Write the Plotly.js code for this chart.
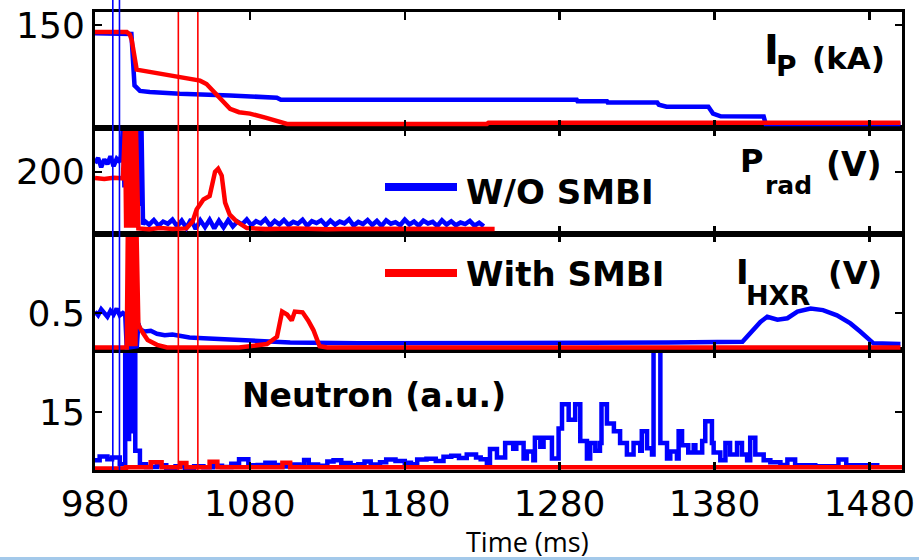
<!DOCTYPE html>
<html>
<head>
<meta charset="utf-8">
<script src="https://cdn.plot.ly/plotly-3.0.1.min.js"></script>
<style>
  html, body { margin: 0; padding: 0; background: #ffffff; }
  #chart { width: 919px; height: 560px; }
</style>
</head>
<body>
<div id="chart"></div>
<script>
// ---------------- data ----------------
const timeTicks = [980, 1080, 1180, 1280, 1380, 1480];
const timeTickLabels = ['980', '1080', '1180', '1280', '1380', '1480'];

const ipTicks = [150];         const ipTickLabels = ['150'];
const pradTicks = [200];       const pradTickLabels = ['200'];
const hxrTicks = [0.5];        const hxrTickLabels = ['0.5'];
const neutronTicks = [15];     const neutronTickLabels = ['15'];

const seriesNames = ['W/O SMBI', 'With SMBI'];
const markTimesBlue = [991.5, 995.8];
const markTimesRed = [1033.8, 1046.4];

// Plasma current Ip (kA)
const ipBlueT = [980, 1003.5, 1005.5, 1007, 1009, 1015.4, 1034.8, 1067.2, 1097.4, 1100, 1291, 1291.5, 1310.5, 1311, 1343, 1344, 1349, 1376, 1379, 1384, 1411.7, 1413, 1500];
const ipBlue  = [138, 137, 62, 58, 54, 52.6, 50, 47.5, 44, 41, 41, 39, 39, 37, 37, 34, 31, 31, 21, 17, 16.6, 6, 6];
const ipRedT  = [980, 1000.5, 1002.5, 1003.7, 1006.9, 1020, 1032.8, 1040, 1047.8, 1052, 1056.4, 1061, 1067.2, 1073, 1080, 1090, 1101.6, 1104, 1233, 1234, 1500];
const ipRed   = [140, 140, 136, 128, 85, 80, 75, 73, 69, 64, 54, 44, 28, 23, 21, 15, 8, 6, 6, 7.5, 7.5];

// Radiated power Prad (V)
const pradBlueT = [980, 982, 984, 986, 988, 990, 992, 994, 996, 997,
                   998, 999, 1000, 1001, 1002, 1003, 1004, 1005, 1006, 1007,
                   1008, 1009, 1010, 1011,
                   1012, 1015, 1018, 1021, 1024, 1027, 1030, 1033, 1036, 1039,
                   1042, 1045, 1048, 1051, 1054, 1057, 1060, 1063, 1066, 1069,
                   1072, 1075, 1078, 1081, 1084, 1087, 1090, 1093, 1096, 1099,
                   1102, 1105, 1108, 1111, 1114, 1117, 1120, 1123, 1126, 1129,
                   1132, 1135, 1138, 1141, 1144, 1147, 1150, 1153, 1156, 1159,
                   1162, 1165, 1168, 1171, 1174, 1177, 1180, 1183, 1186, 1189,
                   1192, 1195, 1198, 1201, 1204, 1207, 1210, 1213, 1216, 1219,
                   1222, 1225, 1228, 1231];
const pradBlue  = [228, 245, 215, 240, 225, 250, 218, 242, 232, 258,
                   345, 150, 345, 120, 345, 160, 345, 110, 345, 140,
                   345, 90, 345, 30,
                   42, 30, 45, 27, 40, 33, 46, 25, 43, 20,
                   47, 16, 44, 22, 46, 18, 43, 21, 45, 24,
                   40, 31, 47, 28, 41, 34, 48, 27, 42, 31,
                   45, 29, 39, 33, 46, 26, 41, 35, 44, 28,
                   43, 30, 40, 34, 47, 27, 39, 32, 45, 29,
                   42, 26, 44, 33, 38, 28, 46, 31, 40, 27,
                   43, 34, 39, 26, 44, 30, 41, 28, 37, 32,
                   42, 27, 36, 25];
const pradRedT = [980, 986, 992, 998, 999.4, 1000.1, 1000.8, 1001.5, 1002.2, 1002.9,
                  1003.6, 1004.3, 1005, 1005.7, 1006.4, 1008, 1015, 1022, 1030, 1039,
                  1043, 1045.6, 1050, 1054, 1057.5, 1059.5, 1061.8, 1064, 1067, 1071.5,
                  1078, 1090, 1110, 1130, 1150, 1170, 1190, 1210, 1238];
const pradRed  = [180, 177, 181, 179, 345, 20, 345, 20, 345, 20,
                  345, 20, 345, 20, 345, 18, 15, 19, 16, 18,
                  40, 79, 111, 122, 200, 210, 188, 101, 62, 40,
                  19, 16, 18, 15, 17, 16, 18, 15, 16];

// Hard X-ray IHXR (V)
const hxrBlueT = [980, 982, 984, 986, 988, 990, 992, 994, 996, 998,
                  999.5, 1000.5, 1007, 1008, 1009, 1012, 1016, 1020, 1025, 1030,
                  1035, 1041, 1050, 1060, 1074, 1090, 1106, 1150, 1216, 1345,
                  1350, 1398, 1400, 1405, 1409.6, 1414, 1420.6, 1427, 1433.5, 1442,
                  1450, 1459, 1467.7, 1474, 1482.6, 1500];
const hxrBlue  = [0.52, 0.47, 0.55, 0.5, 0.45, 0.53, 0.48, 0.56, 0.47, 0.5,
                  0.48, 0.03, 0.05, 0.36, 0.28, 0.25, 0.26, 0.22, 0.2, 0.21,
                  0.19, 0.17, 0.16, 0.15, 0.13, 0.11, 0.1, 0.09, 0.09, 0.09,
                  0.1, 0.11, 0.16, 0.27, 0.38, 0.45, 0.41, 0.43, 0.52, 0.56,
                  0.54, 0.47, 0.36, 0.25, 0.09, 0.08];
const hxrRedT = [980, 1000.5, 1001.2, 1001.9, 1002.6, 1003.3, 1004, 1004.7, 1005.4, 1006.1,
                 1006.8, 1007.5, 1008, 1011, 1014, 1020, 1026.5, 1073, 1080, 1091,
                 1097.5, 1100.8, 1104, 1107, 1109, 1114, 1117.6, 1121, 1125, 1130, 1500];
const hxrRed  = [0.035, 0.035, 1.6, 0.05, 1.6, 0.05, 1.6, 0.05, 1.6, 0.05,
                 1.6, 0.45, 0.34, 0.23, 0.135, 0.07, 0.035, 0.035, 0.05, 0.08,
                 0.18, 0.52, 0.48, 0.4, 0.52, 0.51, 0.4, 0.27, 0.05, 0.035, 0.035];

// Neutron (a.u.)
const neutronBlueT = [980, 983, 988, 991, 996, 999.5, 1001, 1002, 1003.5, 1004.5,
                      1006, 1009, 1013, 1020,
                      1026, 1032, 1038, 1044, 1050, 1056, 1062, 1068, 1073, 1079,
                      1085, 1090, 1096, 1101, 1106, 1112, 1115, 1118, 1124, 1130,
                      1134, 1139, 1145, 1150, 1154, 1158, 1164, 1168, 1174, 1180,
                      1184, 1188, 1194, 1200, 1205, 1210, 1215, 1220, 1226, 1229,
                      1233, 1235, 1239.5, 1244.8, 1250, 1252, 1256.7, 1258.8, 1263, 1264,
                      1267.5, 1269.6, 1275, 1279.3, 1281.5, 1285.8, 1290, 1293.3, 1297.6, 1299.7,
                      1303, 1306, 1307, 1310.5, 1315, 1319, 1323.4, 1327.7, 1332, 1333,
                      1336.4, 1339.6, 1340.6, 1345, 1349.3, 1351.4, 1355.7, 1356.8, 1359, 1363,
                      1366.5, 1367.6, 1372, 1374, 1378.3, 1379.4, 1383.7, 1387, 1390, 1394.5,
                      1397.7, 1401, 1403, 1406.3, 1411.7, 1416, 1422.5, 1427, 1432, 1445,
                      1460, 1465, 1485];
const neutronBlue  = [2.5, 3.5, 2.8, 3.2, 1.5, 33, 8, 33, 10, 33,
                      5, 1.5, 0.8, 1.2,
                      0.6, 1, 0.5, 1, 0.7, 1.1, 0.8, 1.6, 2.8, 1.2,
                      1.3, 1.9, 1.3, 0.9, 1.4, 1.1, 2.6, 1.4, 1.1, 2.2,
                      2.5, 1.8, 1.2, 1.5, 2.2, 1.4, 2, 2.7, 2.3, 1.9,
                      1.5, 2.7, 2.9, 2.3, 3.4, 3.7, 3.1, 4, 3.2, 2.8,
                      1.8, 5.4, 3.2, 7, 5.5, 7, 3, 4.8, 2.5, 8.3,
                      6, 8.3, 3, 10.7, 17, 13, 17, 7.5, 3, 7,
                      5, 7, 17, 12, 10, 7, 4, 7, 5, 10,
                      5.6, 4, 33, 7, 3, 4.8, 3, 10, 6.4, 4.5,
                      6.4, 4.5, 7.5, 12.6, 7, 4.5, 2.5, 7, 4, 7,
                      4, 2.5, 8.3, 4, 2.5, 2, 1.3, 2.7, 1.2, 1,
                      2.7, 1.2, 1];
const neutronRedT = [980, 1000, 1016, 1023, 1035, 1039, 1054, 1059, 1101, 1106, 1501];
const neutronRed  = [0.4, 0.7, 2, 0.7, 1.8, 0.7, 2.1, 0.7, 1.9, 0.7, 0.7];

// ---------------- layout helpers ----------------
const BLUE = '#0000ff', RED = '#ff0000';
const PL = 95, PR = 902, PT = 12, PB = 470;
const PW = PR - PL, PH = PB - PT;
const px = v => (v - PL) / PW;
const py = v => (PB - v) / PH;

const domains = {
  y4: [py(128), 1],       // Ip
  y3: [py(234), py(128)], // Prad
  y2: [py(350), py(234)], // IHXR
  y:  [0, py(350)]        // Neutron
};

const tickFont = {family: 'DejaVu Sans, Arial, sans-serif', size: 36, color: '#000'};

function xAxis(anchor, showLabels) {
  return {
    domain: [0, 1], range: [980, 1501], anchor: anchor,
    tickmode: 'array', tickvals: timeTicks, ticktext: timeTickLabels,
    showticklabels: showLabels, ticks: 'inside', ticklen: 8, tickwidth: 2.5, tickcolor: '#000',
    showline: true, linewidth: 3, linecolor: '#000', mirror: 'allticks',
    showgrid: false, zeroline: false, tickfont: tickFont, ticklabelstandoff: 0,
    fixedrange: true
  };
}
function yAxis(anchor, domain, range, vals, labels) {
  return {
    domain: domain, range: range, anchor: anchor,
    tickmode: 'array', tickvals: vals, ticktext: labels,
    ticks: 'inside', ticklen: 7, tickwidth: 2.5, tickcolor: '#000',
    showline: true, linewidth: 3, linecolor: '#000', mirror: 'allticks',
    showgrid: false, zeroline: false, tickfont: tickFont, ticklabelstandoff: 0,
    fixedrange: true
  };
}

function line(x, y, color, xa, ya, name, shape) {
  return {
    x: x, y: y, type: 'scatter', mode: 'lines', name: name,
    xaxis: xa, yaxis: ya, showlegend: false, hoverinfo: 'skip',
    line: {color: color, width: 4.5, shape: shape || 'linear'}
  };
}

const traces = [
  line(ipBlueT, ipBlue, BLUE, 'x4', 'y4', seriesNames[0]),
  line(ipRedT, ipRed, RED, 'x4', 'y4', seriesNames[1]),
  line(pradBlueT, pradBlue, BLUE, 'x3', 'y3', seriesNames[0]),
  line(pradRedT, pradRed, RED, 'x3', 'y3', seriesNames[1]),
  line(hxrBlueT, hxrBlue, BLUE, 'x2', 'y2', seriesNames[0]),
  line(hxrRedT, hxrRed, RED, 'x2', 'y2', seriesNames[1]),
  line(neutronBlueT, neutronBlue, BLUE, 'x', 'y', seriesNames[0], 'hv'),
  line(neutronRedT, neutronRed, RED, 'x', 'y', seriesNames[1], 'hv')
];

const shapes = [];
markTimesBlue.forEach(t => shapes.push({type: 'line', xref: 'x', yref: 'paper', x0: t, x1: t, y0: 0, y1: py(0),
  line: {color: BLUE, width: 1.6}, layer: 'above'}));
markTimesRed.forEach(t => shapes.push({type: 'line', xref: 'x', yref: 'paper', x0: t, x1: t, y0: 0, y1: 1,
  line: {color: RED, width: 1.6}, layer: 'above'}));
// legend samples
shapes.push({type: 'line', xref: 'paper', yref: 'paper', x0: px(385), x1: px(457), y0: py(187), y1: py(187), line: {color: BLUE, width: 8}});
shapes.push({type: 'line', xref: 'paper', yref: 'paper', x0: px(385), x1: px(457), y0: py(273), y1: py(273), line: {color: RED, width: 8}});
// slide border line at bottom
shapes.push({type: 'rect', xref: 'paper', yref: 'paper', x0: px(0), x1: px(919), y0: py(560), y1: py(557),
  fillcolor: '#a3c9ea', line: {width: 0}});

const bold = 'DejaVu Sans, Arial, sans-serif';
function ann(text, x, y, size, xanchor, color, weight, family) {
  return {text: text, xref: 'paper', yref: 'paper', x: px(x), y: py(y), xanchor: xanchor, yanchor: 'middle',
    showarrow: false, borderpad: 0,
    font: {family: family || bold, size: size, color: color || '#000', weight: weight === undefined ? 700 : weight}};
}

const annotations = [
  // Ip label
  ann('I', 763, 50, 40, 'left'),
  ann('P', 775, 66, 28, 'left'),
  ann('(kA)', 886, 58, 31, 'right'),
  // Prad label
  ann('P', 739, 161, 32, 'left'),
  ann('rad', 764, 185, 25, 'left'),
  ann('(V)', 883, 165, 33, 'right'),
  // IHXR label
  ann('I', 735, 272, 34, 'left'),
  ann('HXR', 745, 295, 27, 'left'),
  ann('(V)', 883, 273, 32, 'right'),
  // Neutron label
  ann('Neutron (a.u.)', 241, 395, 33, 'left'),
  // legend texts
  ann(seriesNames[0], 465, 192, 34, 'left'),
  ann(seriesNames[1], 465, 274, 34, 'left'),
  // x axis title
  ann('Time (ms)', 527, 541, 27, 'center', '#000', 400, 'Open Sans, Noto Sans, sans-serif')
];

const layout = {
  width: 919, height: 560,
  margin: {l: PL, r: 919 - PR, t: PT, b: 560 - PB, pad: 0},
  paper_bgcolor: '#ffffff', plot_bgcolor: '#ffffff',
  showlegend: false,
  xaxis: xAxis('y', true),
  xaxis2: Object.assign(xAxis('y2', false), {matches: 'x'}),
  xaxis3: Object.assign(xAxis('y3', false), {matches: 'x'}),
  xaxis4: Object.assign(xAxis('y4', false), {matches: 'x'}),
  yaxis:  yAxis('x',  domains.y,  [0, 31],  neutronTicks, neutronTickLabels),
  yaxis2: yAxis('x2', domains.y2, [0, 1.57], hxrTicks, hxrTickLabels),
  yaxis3: yAxis('x3', domains.y3, [0, 341], pradTicks, pradTickLabels),
  yaxis4: yAxis('x4', domains.y4, [0, 169], ipTicks, ipTickLabels),
  shapes: shapes,
  annotations: annotations
};

Plotly.newPlot('chart', traces, layout, {displayModeBar: false, staticPlot: true});
</script>
</body>
</html>
